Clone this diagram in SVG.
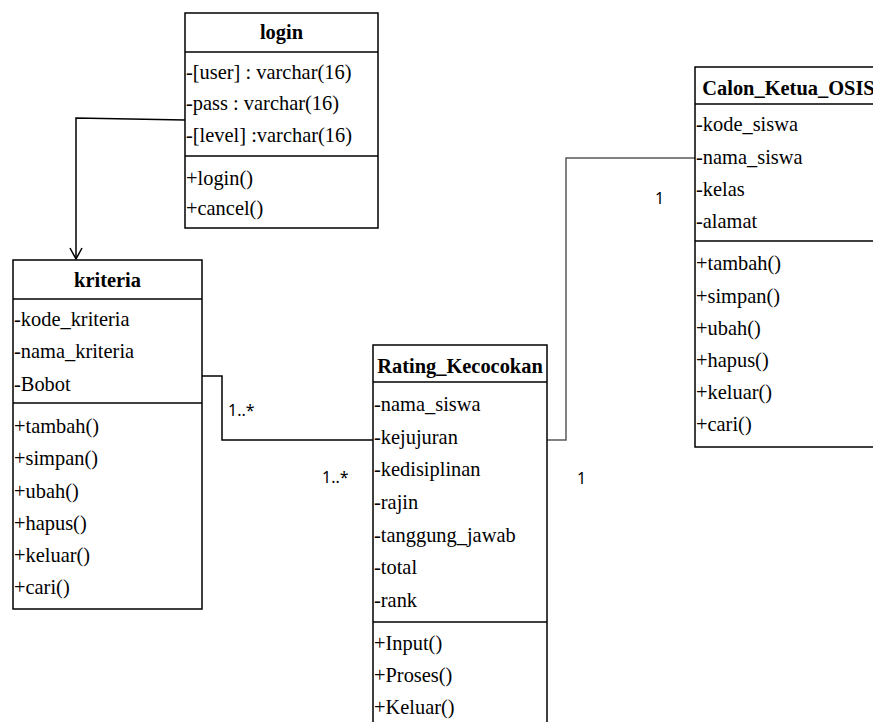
<svg xmlns="http://www.w3.org/2000/svg" width="873" height="722" viewBox="0 0 873 722">
  <style>
    .box { fill: #ffffff; stroke: #000000; stroke-width: 1.5; }
    .sep { stroke: #000000; stroke-width: 1.5; }
    .title { font-family: "Liberation Serif", "Times New Roman", serif; font-size: 21.5px; font-weight: bold; text-anchor: middle; fill: #000000; }
    .row { font-family: "Liberation Serif", "Times New Roman", serif; font-size: 21.5px; fill: #000000; }
    .mult { font-family: "Noto Sans", "DejaVu Sans", sans-serif; font-size: 16px; fill: #000000; }
    .link { fill: none; stroke: #000000; stroke-width: 1.5; }
    .link-grey { fill: none; stroke: #5a5a5a; stroke-width: 1.5; }
  </style>
  <defs>
    <marker id="openArrow" markerWidth="14" markerHeight="14" refX="12" refY="7" orient="auto" markerUnits="userSpaceOnUse">
      <path d="M1,1 L12,7 L1,13" fill="none" stroke="#000000" stroke-width="1.5"/>
    </marker>
  </defs>

  <rect width="873" height="722" fill="#ffffff"/>

  <!-- associations -->
  <g id="connectors">
    <path class="link" d="M185,120 L76,118 L76,259" marker-end="url(#openArrow)"/>
    <path class="link" d="M202,376 H222 V440 H373"/>
    <path class="link-grey" d="M547,440 H566 V158 H695"/>
    <text class="mult" x="228" y="416">1..*</text>
    <text class="mult" x="322" y="483">1..*</text>
    <text class="mult" x="577" y="484">1</text>
    <text class="mult" x="655" y="204">1</text>
  </g>

  <!-- login class (text narrowed 95% about its anchor) -->
  <g id="login">
    <rect class="box" x="185" y="13" width="193" height="215"/>
    <line class="sep" x1="185" y1="52" x2="378" y2="52"/>
    <line class="sep" x1="185" y1="156" x2="378" y2="156"/>
    <text class="title" x="281.5" y="39" transform="matrix(0.95 0 0 1 14.075 0)">login</text>
    <g transform="matrix(0.95 0 0 1 9.3 0)">
      <text class="row" x="186" y="79">-[user] : varchar(16)</text>
      <text class="row" x="186" y="110">-pass : varchar(16)</text>
      <text class="row" x="186" y="142">-[level] :varchar(16)</text>
      <text class="row" x="186" y="185">+login()</text>
      <text class="row" x="186" y="215">+cancel()</text>
    </g>
  </g>

  <!-- kriteria class -->
  <g id="kriteria">
    <rect class="box" x="13" y="260" width="189" height="349"/>
    <line class="sep" x1="13" y1="299" x2="202" y2="299"/>
    <line class="sep" x1="13" y1="403" x2="202" y2="403"/>
    <text class="title" x="107.5" y="287" transform="matrix(0.95 0 0 1 5.375 0)">kriteria</text>
    <g transform="matrix(0.95 0 0 1 0.7 0)">
      <text class="row" x="14" y="326">-kode_kriteria</text>
      <text class="row" x="14" y="358">-nama_kriteria</text>
      <text class="row" x="14" y="391">-Bobot</text>
      <text class="row" x="14" y="433">+tambah()</text>
      <text class="row" x="14" y="465">+simpan()</text>
      <text class="row" x="14" y="498">+ubah()</text>
      <text class="row" x="14" y="530">+hapus()</text>
      <text class="row" x="14" y="562">+keluar()</text>
      <text class="row" x="14" y="594">+cari()</text>
    </g>
  </g>

  <!-- Rating_Kecocokan class -->
  <g id="rating_kecocokan">
    <rect class="box" x="373" y="345" width="174" height="400"/>
    <line class="sep" x1="373" y1="382" x2="547" y2="382"/>
    <line class="sep" x1="373" y1="622" x2="547" y2="622"/>
    <text class="title" x="460" y="373" transform="matrix(0.95 0 0 1 23 0)">Rating_Kecocokan</text>
    <g transform="matrix(0.95 0 0 1 18.7 0)">
      <text class="row" x="374" y="411">-nama_siswa</text>
      <text class="row" x="374" y="444">-kejujuran</text>
      <text class="row" x="374" y="476">-kedisiplinan</text>
      <text class="row" x="374" y="509">-rajin</text>
      <text class="row" x="374" y="542">-tanggung_jawab</text>
      <text class="row" x="374" y="574">-total</text>
      <text class="row" x="374" y="607">-rank</text>
      <text class="row" x="374" y="650">+Input()</text>
      <text class="row" x="374" y="682">+Proses()</text>
      <text class="row" x="374" y="714">+Keluar()</text>
    </g>
  </g>

  <!-- Calon_Ketua_OSIS class (runs past the right edge) -->
  <g id="calon_ketua_osis">
    <rect class="box" x="695" y="67" width="187" height="380"/>
    <line class="sep" x1="695" y1="104" x2="882" y2="104"/>
    <line class="sep" x1="695" y1="241" x2="882" y2="241"/>
    <text class="title" x="788.5" y="95" transform="matrix(0.95 0 0 1 39.425 0)">Calon_Ketua_OSIS</text>
    <g transform="matrix(0.95 0 0 1 34.8 0)">
      <text class="row" x="696" y="131">-kode_siswa</text>
      <text class="row" x="696" y="164">-nama_siswa</text>
      <text class="row" x="696" y="196">-kelas</text>
      <text class="row" x="696" y="228">-alamat</text>
      <text class="row" x="696" y="270">+tambah()</text>
      <text class="row" x="696" y="303">+simpan()</text>
      <text class="row" x="696" y="335">+ubah()</text>
      <text class="row" x="696" y="367">+hapus()</text>
      <text class="row" x="696" y="399">+keluar()</text>
      <text class="row" x="696" y="431">+cari()</text>
    </g>
  </g>
</svg>
